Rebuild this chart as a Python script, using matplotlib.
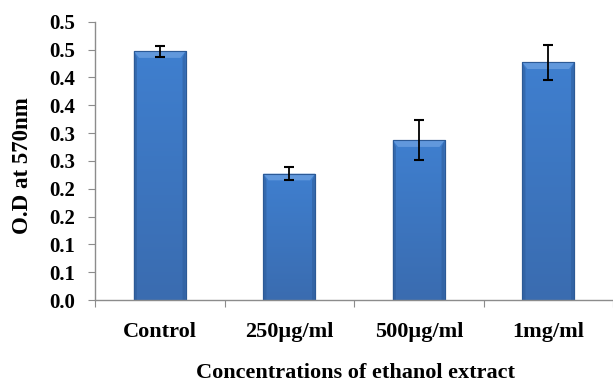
import numpy as np
import matplotlib
matplotlib.use("Agg")
import matplotlib.pyplot as plt
from matplotlib.colors import LinearSegmentedColormap

categories = ["Control", "250\u00b5g/ml", "500\u00b5g/ml", "1mg/ml"]
od_values = [0.447, 0.227, 0.287, 0.427]
od_errors = [0.010, 0.012, 0.036, 0.031]
y_ticks = [0.0, 0.05, 0.10, 0.15, 0.20, 0.25, 0.30, 0.35, 0.40, 0.45, 0.50]
y_tick_labels = ["0.0", "0.1", "0.1", "0.2", "0.2", "0.3", "0.3", "0.4", "0.4", "0.5", "0.5"]

plt.rcParams["font.family"] = ["Liberation Serif", "DejaVu Serif"]
plt.rcParams["font.weight"] = "bold"

fig = plt.figure(figsize=(6.13, 3.88), dpi=100)
ax = fig.add_axes([95 / 613, 1 - 300 / 388, (613 - 95) / 613, (300 - 21.7) / 388])

x = np.arange(len(categories))
bars = ax.bar(x, od_values, width=0.4, color="#3d78c6", edgecolor="#2c5a96",
              linewidth=0.8, zorder=2)

# vertical gradient inside each bar, with a bevelled top and shaded sides
grad = LinearSegmentedColormap.from_list("bar", ["#3a6cb0", "#3f7fcf"])
for b in bars:
    x0, y0 = b.get_x(), b.get_y()
    w, h = b.get_width(), b.get_height()
    img = np.linspace(0, 1, 100).reshape(-1, 1)
    im = ax.imshow(img, cmap=grad, aspect="auto", origin="lower",
                   extent=(x0, x0 + w, y0, y0 + h), zorder=2.1)
    im.set_clip_path(b)
    ax.fill([x0, x0 + w, x0 + w * 0.9, x0 + w * 0.1],
            [y0 + h, y0 + h, y0 + h - 0.012, y0 + h - 0.012],
            color="#6a9fe0", alpha=0.8, zorder=2.2, lw=0)
    ax.fill([x0, x0 + w * 0.06, x0 + w * 0.06, x0],
            [y0, y0, y0 + h - 0.012, y0 + h],
            color="#2f5e9c", alpha=0.6, zorder=2.2, lw=0)
    ax.fill([x0 + w, x0 + w * 0.94, x0 + w * 0.94, x0 + w],
            [y0, y0, y0 + h - 0.012, y0 + h],
            color="#2f5e9c", alpha=0.6, zorder=2.2, lw=0)
    ax.bar(x0 + w / 2, h, width=w, bottom=y0, fill=False,
           edgecolor="#2c5a96", linewidth=0.8, zorder=2.3)

ax.errorbar(x, od_values, yerr=od_errors, fmt="none", ecolor="black",
            elinewidth=1.3, capsize=3.5, capthick=1.5, zorder=3)

ax.set_xlim(-0.5, 3.485)
ax.set_ylim(0, 0.5)
ax.set_yticks(y_ticks)
ax.set_yticklabels(y_tick_labels, fontsize=15, fontweight="bold")
ax.set_xticks([-0.5, 0.5, 1.5, 2.5, 3.5])
ax.set_xticklabels([])
ax.tick_params(axis="x", length=5, color="#8c8c8c", direction="out")
ax.tick_params(axis="y", length=5, color="#8c8c8c", direction="out", pad=9)
for i, c in enumerate(categories):
    ax.text(i, -0.058, c, ha="center", va="center", fontsize=16,
            fontweight="bold", clip_on=False)

for s in ["top", "right"]:
    ax.spines[s].set_visible(False)
for s in ["left", "bottom"]:
    ax.spines[s].set_color("#8c8c8c")
    ax.spines[s].set_linewidth(1.0)

fig.text(23 / 613, 1 - 166 / 388, "O.D at 570nm", rotation=90, ha="center",
         va="center", fontsize=16.5, fontweight="bold")
fig.text(355 / 613, 1 - 373 / 388, "Concentrations of ethanol extract",
         ha="center", va="center", fontsize=16, fontweight="bold")

fig.savefig("out.png", dpi=100)
